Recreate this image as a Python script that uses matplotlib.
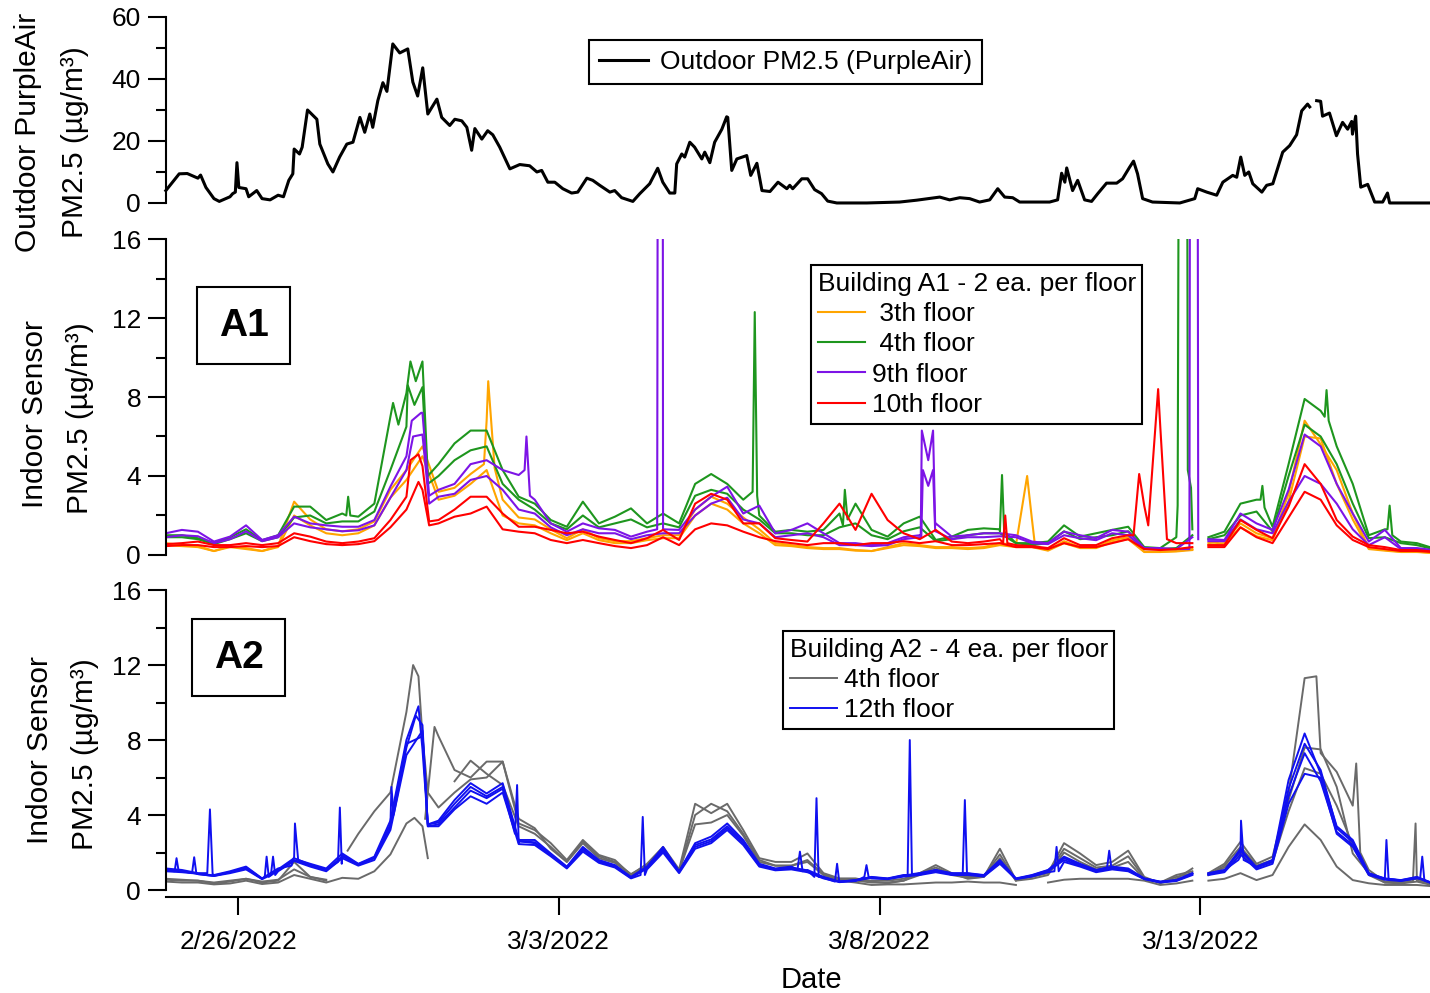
import numpy as np
import matplotlib
matplotlib.use("Agg")
import matplotlib.pyplot as plt
from matplotlib.ticker import MultipleLocator, FixedLocator, FuncFormatter
from matplotlib.lines import Line2D
from matplotlib.patches import Rectangle
import matplotlib.dates as mdates

plt.rcParams['font.family'] = ['Liberation Sans', 'DejaVu Sans']

nan = float("nan")
START = np.datetime64("2022-02-24T21:00")
# indoor sensors: 6-hourly readings, hours after START
grid_hours = list(range(0, 480, 6))

# outdoor PurpleAir, (hours after START, ug/m3)
outdoor = [(0, 4), (5, 9.4), (8, 9.5), (12, 8), (13, 9), (15, 5), (18, 1.4), (20, 0.5), (24, 2), (25, 3),
           (26, 3.5), (26.6, 13), (27.3, 5), (30, 4.6), (31, 2), (34, 4), (36, 1.4), (39, 1), (42, 2.5), (44, 2),
           (46, 7.3), (47.5, 9.4), (48, 17.4), (50, 15.8), (51, 18), (53, 30), (56.5, 27), (57.6, 19), (60.6, 12.6),
           (62.5, 10), (65, 14.8), (67.7, 19), (70, 19.6), (72.6, 27.6), (74.4, 22.8), (76.3, 28.7), (77.4, 24.4),
           (79.3, 33), (81.2, 38.8), (82.7, 36), (84.9, 51.3), (87.5, 48.4), (90.5, 49.7), (92.4, 39), (94.2, 34.5),
           (96.1, 43.6), (98, 28.7), (101.4, 33.5), (103.2, 27.6), (106.2, 25), (108.1, 27), (110.7, 26.5),
           (112.6, 24.4), (114.4, 17), (115.6, 24), (118.2, 20.6), (120.4, 23.3), (122.3, 22), (124.9, 18),
           (128.7, 11), (132.4, 12.4), (136.1, 12), (138.8, 10), (140.6, 10.5), (142.9, 6.7), (145.5, 6.7),
           (148.5, 4.6), (151.8, 3.2), (154.1, 3.5), (157.5, 8), (159.7, 7.3), (162.3, 5.7), (166.1, 3.5),
           (167.9, 4), (170.5, 1.7), (174.7, 0.5), (177.3, 3), (181, 6.2), (184, 11.2), (185.9, 6.7), (188.5, 3.2),
           (190.4, 3.2), (191.1, 12.6), (193, 15.8), (194.1, 14.8), (196, 19.6), (197.8, 18), (200.5, 14.2),
           (201.6, 16.4), (203.5, 13), (205.3, 19.6), (208, 23.8), (209.8, 27.8), (210.2, 27.6), (211.7, 10.5),
           (213.6, 14.2), (217.3, 15.3), (218.8, 8.9), (221.1, 12.8), (223, 4), (226, 3.7), (229, 6.7),
           (232.3, 4.6), (233.4, 5.7), (234.5, 4.6), (237.9, 7.8), (240.1, 7.8), (242.7, 4.3), (245.3, 3),
           (247.6, 0.6), (251, 0), (262.2, 0), (274.5, 0.3), (280.9, 0.9), (289.5, 1.9), (293.2, 1), (297, 1.7),
           (300.7, 1.4), (304.4, 0.3), (308.2, 1), (311.2, 4.6), (313.8, 1.9), (316.8, 1.7), (319.4, 0.3),
           (330.6, 0.3), (333.6, 1), (335.1, 9.6), (336.3, 6.7), (337, 11.3), (339.2, 4), (341.1, 7.3), (343.7, 1),
           (346.3, 0.5), (348.6, 3), (351.9, 6.4), (355.7, 6.4), (357.9, 7.8), (360.5, 11.5), (362, 13.5),
           (363.5, 9.4), (365.4, 1.4), (369.1, 0.3), (379.3, 0), (384.9, 1.4), (386, 4.6), (389.4, 3.5),
           (393.1, 2.5), (395.4, 6.7), (399.1, 8.9), (400.6, 8.3), (402.1, 14.8), (403.6, 8.9), (405.1, 10),
           (406.6, 6.2), (410, 3.5), (411.8, 5.7), (414.1, 6.2), (417.8, 16.4), (420.4, 18.5), (423, 22),
           (424.9, 29.7), (427.1, 31.9), (427.9, 31), (429.2, nan), (430.5, 33), (432, 32.8), (432.7, 28),
           (435.3, 29), (437.9, 21.7), (440.2, 26), (442.1, 23.8), (443.6, 26.3), (443.9, 22.2), (445.1, 28),
           (445.8, 15.8), (447, 5.1), (449.6, 6), (452.2, 0.3), (455.2, 0.3), (457, 3.2), (457.8, 0), (472.8, 0)]

# ---- Building A1 ----
a1_3th_1 = [0.6, 0.5, 0.45, 0.2, 0.45, 0.35, 0.2, 0.45, 2.7, 1.8,
            1.3, 1.2, 1.3, 1.7, 3.3, 4.3, 5.5, 3.2, 3.4, 4.1,
            6.8, 2.8, 1.9, 1.8, 1.3, 0.85, 1.3, 0.85, 0.7, 0.7,
            0.85, 1.0, 1.0, 2.3, 2.95, 2.6, 1.9, 1.3, 0.6, 0.5,
            0.4, 0.35, 0.35, 0.25, 0.2, 0.4, 0.6, 0.5, 0.4, 0.4,
            0.35, 0.4, 0.6, 0.5, 1.8, 0.25, 0.7, 0.4, 0.4, 0.75,
            0.9, 0.17, 0.17, 0.2, 0.3, 0.6, 0.7, 1.6, 1.1, 0.85,
            3.1, 6.8, 5.6, 4.3, 2.1, 0.35, 0.25, 0.17, 0.17, 0.1]
a1_3th_1_extra = [(119, 4.6), (120.6, 8.8), (123, 4.4), (322.2, 4.0), (325.2, 0.4), (388.5, nan)]
a1_3th_2 = [0.5, 0.45, 0.4, 0.2, 0.4, 0.3, 0.2, 0.4, 2.0, 1.5,
            1.1, 1.0, 1.1, 1.5, 2.9, 3.8, 5.0, 2.8, 3.0, 3.6,
            4.3, 2.0, 1.6, 1.5, 1.1, 0.75, 1.1, 0.75, 0.6, 0.6,
            0.75, 0.85, 0.85, 2.0, 2.6, 2.3, 1.6, 1.1, 0.5, 0.45,
            0.35, 0.3, 0.3, 0.22, 0.2, 0.35, 0.5, 0.45, 0.35, 0.35,
            0.3, 0.35, 0.5, 0.4, 0.4, 0.22, 0.6, 0.35, 0.35, 0.65,
            0.8, 0.15, 0.15, 0.18, 0.25, 0.5, 0.6, 1.4, 0.95, 0.75,
            2.7, 6.0, 5.9, 3.6, 1.8, 0.3, 0.22, 0.15, 0.15, 0.1]
a1_3th_2_extra = [(388.5, nan)]
a1_4th_1 = [1.0, 1.0, 0.85, 0.6, 0.9, 1.3, 0.75, 1.0, 2.45, 2.45,
            1.77, 2.1, 1.94, 2.6, 7.0, 8.2, 9.8, 4.6, 5.65, 6.3,
            6.3, 4.3, 2.95, 2.6, 1.77, 1.43, 2.7, 1.6, 1.94, 2.36,
            1.6, 2.1, 1.6, 3.6, 4.1, 3.6, 2.8, 2.0, 1.18, 1.27,
            1.18, 1.27, 2.1, 2.6, 1.27, 0.93, 1.6, 1.94, 0.76, 0.93,
            1.27, 1.35, 1.3, 0.6, 0.6, 0.68, 1.5, 0.93, 1.1, 1.27,
            1.43, 0.4, 0.35, 0.9, 1.3, 0.9, 1.18, 2.6, 2.8, 1.43,
            4.6, 7.9, 7.3, 5.5, 3.6, 1.0, 1.3, 0.68, 0.6, 0.35]
a1_4th_1_extra = [(67.5, 2.0), (68.2, 2.95), (69.0, 2.0), (85.0, 7.7), (87.0, 6.6), (91.5, 9.8), (93.5, 8.8),
                  (98.0, 4.0), (219.5, 3.2), (220.3, 12.3), (221.2, 3.0), (253.3, 1.5), (254.0, 3.3),
                  (255.0, 1.8), (312.0, 1.2), (312.8, 4.05), (313.6, 1.2), (378.5, 2.5), (379.3, 40),
                  (381.8, 40), (382.3, 4.3), (383.5, 3.4), (388.5, nan), (409.5, 2.8), (410.2, 3.5),
                  (411.0, 2.4), (433.5, 7.0), (434.2, 8.35), (435.0, 6.8), (457.0, 1.3), (457.8, 2.5),
                  (458.8, 1.0)]
a1_4th_2 = [0.9, 0.9, 0.8, 0.55, 0.8, 1.1, 0.7, 0.9, 1.9, 2.0,
            1.6, 1.7, 1.7, 2.2, 4.3, 6.5, 8.5, 4.0, 4.8, 5.3,
            5.5, 3.6, 2.8, 2.3, 1.6, 1.3, 2.0, 1.4, 1.6, 1.8,
            1.4, 1.6, 1.4, 3.0, 3.3, 3.1, 2.3, 1.8, 1.1, 1.1,
            1.0, 1.0, 1.4, 1.6, 1.0, 0.8, 1.2, 1.4, 0.7, 0.8,
            1.0, 1.1, 1.1, 0.6, 0.5, 0.6, 1.2, 0.8, 0.9, 1.0,
            1.2, 0.35, 0.3, 0.35, 1.0, 0.8, 1.0, 2.0, 2.2, 1.2,
            4.0, 6.6, 6.0, 4.6, 2.6, 0.85, 0.9, 0.6, 0.5, 0.3]
a1_4th_2_extra = [(90.5, 8.6), (93.0, 7.6), (98.0, 3.6), (388.5, nan)]
a1_9th_1 = [1.1, 1.27, 1.18, 0.68, 0.93, 1.5, 0.76, 1.0, 1.94, 1.6,
            1.5, 1.43, 1.43, 1.77, 3.46, 5.0, 7.2, 3.3, 3.6, 4.6,
            4.8, 4.3, 4.05, 2.8, 1.6, 1.18, 1.6, 1.35, 1.27, 0.93,
            1.18, 1.3, 1.27, 2.3, 2.95, 3.46, 2.1, 2.5, 1.1, 1.27,
            1.6, 1.1, 0.6, 0.6, 0.5, 0.6, 0.9, 1.0, 1.6, 0.93,
            1.0, 1.1, 1.1, 1.0, 0.68, 0.6, 1.18, 1.0, 0.85, 1.27,
            1.18, 0.35, 0.35, 0.3, 0.9, 0.8, 0.76, 2.1, 1.6, 1.27,
            3.3, 6.1, 5.5, 3.6, 2.1, 0.68, 1.27, 0.35, 0.35, 0.25]
a1_9th_1_extra = [(92.0, 6.8), (95.5, 7.2), (98.5, 3.0), (134.2, 4.3), (134.9, 6.0), (136.2, 3.0),
                  (183.8, 1.3), (184.2, 40), (185.8, 40), (282.4, 1.0), (282.8, 6.3), (285.2, 4.8),
                  (287.0, 6.3), (287.8, 1.5), (388.5, nan)]
a1_9th_2 = [0.9, 1.0, 0.95, 0.6, 0.8, 1.2, 0.7, 0.9, 1.6, 1.4,
            1.3, 1.2, 1.25, 1.5, 2.9, 4.3, 6.1, 2.95, 3.1, 3.8,
            4.0, 3.3, 2.3, 2.1, 1.4, 1.0, 1.3, 1.1, 1.1, 0.8,
            1.0, 1.1, 1.1, 2.0, 2.6, 2.9, 1.8, 1.6, 0.9, 1.0,
            1.1, 0.9, 0.5, 0.5, 0.45, 0.5, 0.8, 0.9, 1.2, 0.8,
            0.9, 0.9, 0.95, 0.9, 0.6, 0.55, 1.0, 0.85, 0.75, 1.1,
            1.0, 0.3, 0.3, 0.3, 40, 0.7, 0.7, 1.8, 1.3, 1.1,
            2.7, 4.0, 3.6, 2.6, 1.3, 0.5, 0.9, 0.3, 0.3, 0.2]
a1_9th_2_extra = [(92.5, 6.0), (98.5, 2.6), (282.6, 0.9), (283.2, 4.3), (285.2, 3.5), (287.0, 4.3),
                  (287.8, 1.2), (382.9, 0.3), (383.3, 40), (385.8, 40), (386.2, 0.8), (388.5, nan)]
a1_10th_1 = [0.55, 0.6, 0.68, 0.5, 0.5, 0.6, 0.5, 0.6, 1.1, 0.93,
             0.68, 0.6, 0.68, 0.85, 1.77, 2.95, 4.5, 1.77, 2.3, 2.95,
             2.95, 2.1, 1.43, 1.43, 1.27, 1.1, 1.18, 0.93, 0.76, 0.6,
             0.85, 1.27, 0.76, 2.6, 3.1, 2.8, 1.6, 1.6, 0.85, 0.76,
             0.68, 1.6, 2.6, 1.27, 3.1, 1.77, 1.1, 0.8, 1.27, 0.68,
             0.6, 0.68, 0.8, 0.5, 0.45, 0.35, 0.85, 0.5, 0.5, 0.85,
             1.0, 2.5, 6.5, 0.6, 0.6, 0.5, 0.5, 1.77, 1.27, 0.85,
             2.45, 4.6, 3.6, 1.77, 0.93, 0.5, 0.4, 0.25, 0.25, 0.17]
a1_10th_1_extra = [(91.5, 4.8), (94.5, 5.1), (98.5, 1.7), (313.2, 0.6), (314.0, 2.0), (314.8, 0.6),
                   (362.0, 1.0), (364.1, 4.1), (367.5, 1.5), (371.2, 8.4), (374.5, 0.8), (388.5, nan)]
a1_10th_2 = [0.45, 0.5, 0.5, 0.4, 0.4, 0.45, 0.4, 0.45, 0.9, 0.7,
             0.55, 0.5, 0.55, 0.7, 1.4, 2.3, 3.3, 1.6, 1.94, 2.1,
             2.45, 1.3, 1.18, 1.1, 0.76, 0.6, 0.76, 0.6, 0.45, 0.35,
             0.5, 0.9, 0.5, 1.3, 1.6, 1.5, 1.18, 0.9, 0.7, 0.6,
             0.5, 0.6, 0.6, 0.5, 0.6, 0.6, 0.7, 0.6, 0.7, 0.5,
             0.5, 0.55, 0.6, 0.4, 0.4, 0.3, 0.6, 0.4, 0.4, 0.6,
             0.8, 0.3, 0.25, 0.3, 0.4, 0.4, 0.4, 1.4, 0.9, 0.6,
             1.9, 3.2, 2.8, 1.5, 0.76, 0.4, 0.3, 0.2, 0.2, 0.15]
a1_10th_2_extra = [(94.5, 3.7), (98.5, 1.5), (388.5, nan)]

# ---- Building A2 ----
a2_4th_1 = [0.55, 0.5, 0.5, 0.35, 0.45, 0.6, 0.4, 0.5, 1.5, 0.7,
            0.5, nan, 3.0, 4.2, 5.2, 9.5, 8.2, 4.4, 5.2, 5.9,
            6.0, 6.85, 3.55, 3.2, 2.5, 1.6, 2.67, 1.87, 1.6, 0.8,
            1.4, 2.3, 1.1, 4.6, 4.1, 4.6, 3.2, 1.7, 1.5, 1.5,
            1.95, 0.9, 0.62, 0.62, 0.45, 0.36, 0.5, 0.9, 1.33, 0.9,
            0.6, 0.7, 2.2, 0.53, 0.7, 0.9, 2.5, 1.95, 1.33, 1.5,
            2.1, 0.7, 0.36, 0.6, 1.15, 0.9, 1.4, 2.57, 1.4, 1.78,
            5.15, 11.3, 7.3, 6.3, 4.5, 1.07, 0.45, 0.45, 0.6, 0.3]
a2_4th_1_extra = [(68.0, 2.1), (92.5, 12.0), (94.5, 11.4), (98.0, 5.2), (388.5, nan), (430.4, 11.4),
                  (445.3, 6.75), (446.8, 2.0)]
a2_4th_2 = [nan, nan, nan, nan, nan, nan, nan, nan, nan, nan,
            nan, nan, nan, nan, nan, nan, nan, 8.2, 6.4, 6.0,
            6.85, 6.85, 3.8, 3.3, 2.2, 1.5, 2.6, 1.8, 1.5, 0.85,
            1.35, 2.2, 1.0, 4.0, 4.6, 4.2, 3.0, 1.6, 1.3, 1.3,
            1.6, 0.85, 0.55, 0.55, 0.5, 0.5, 0.6, 0.9, 1.2, 0.85,
            0.7, 0.75, 1.9, 0.5, nan, 0.9, 2.2, 1.7, 1.2, 1.3,
            1.8, 0.65, 0.4, 0.8, 1.0, 0.8, 1.3, 2.3, 1.3, 1.6,
            4.8, 7.6, 7.5, 5.5, 1.95, 0.9, 0.4, 0.4, 0.5, 0.3]
a2_4th_2_extra = [(97.0, 3.8), (100.5, 8.7), (388.5, nan), (466.5, 0.45), (467.5, 3.55)]
a2_4th_3 = [0.45, 0.4, 0.4, 0.3, 0.35, 0.5, 0.32, 0.4, 0.8, 0.6,
            0.4, 0.65, 0.6, 1.0, 1.9, 3.55, 3.4, nan, nan, nan,
            nan, nan, nan, nan, nan, nan, nan, nan, nan, nan,
            nan, nan, nan, nan, nan, nan, nan, nan, nan, nan,
            nan, 0.7, 0.5, 0.4, 0.27, 0.3, 0.3, 0.35, 0.4, 0.4,
            0.45, 0.4, 0.4, 0.27, nan, 0.4, 0.55, 0.6, 0.6, 0.6,
            0.6, 0.5, 0.27, 0.35, 0.5, 0.5, 0.6, 0.9, 0.53, 0.8,
            2.3, 3.5, 2.67, 1.25, 0.53, 0.36, 0.27, 0.27, 0.27, 0.2]
a2_4th_3_extra = [(93.0, 3.85), (98.0, 1.7), (388.5, nan)]
a2_4th_4 = [0.6, 0.55, 0.5, 0.4, 0.5, 0.6, 0.45, 0.55, 1.1, 0.7,
            0.55, nan, nan, nan, nan, nan, nan, nan, 5.8, 6.9,
            6.2, 5.6, 3.4, 3.0, 2.3, 1.5, 2.5, 1.7, 1.45, 0.8,
            1.3, 2.1, 1.0, 3.5, 3.6, 4.0, 2.9, 1.5, 1.3, 1.3,
            1.5, 0.8, 0.55, 0.5, 0.4, 0.4, 0.5, 0.8, 1.1, 0.8,
            0.65, 0.7, 1.7, 0.5, 0.6, 0.8, 2.0, 1.5, 1.1, 1.2,
            1.5, 0.6, 0.4, 0.7, 0.9, 0.8, 1.2, 2.0, 1.2, 1.5,
            4.2, 6.5, 6.2, 4.5, 2.4, 0.8, 0.4, 0.35, 0.45, 0.25]
a2_4th_4_extra = [(388.5, nan)]
a2_12th_1 = [1.15, 1.07, 0.9, 0.8, 1.0, 1.25, 0.62, 1.15, 1.78, 1.4,
             1.15, 1.95, 1.4, 1.78, 3.7, 8.0, 7.5, 3.7, 4.8, 5.7,
             5.15, 5.7, 2.67, 2.67, 1.95, 1.25, 2.3, 1.6, 1.33, 0.7,
             1.25, 2.3, 1.0, 2.5, 2.85, 3.55, 2.67, 1.4, 1.15, 1.25,
             1.07, 0.7, 0.45, 0.53, 0.7, 0.62, 0.8, 0.9, 1.07, 0.9,
             0.9, 0.8, 1.6, 0.62, 0.8, 1.07, 1.78, 1.4, 1.07, 1.25,
             1.15, 0.62, 0.45, 0.53, 0.9, 0.9, 1.07, 1.8, 1.25, 1.6,
             5.87, 8.35, 6.2, 3.4, 2.67, 0.9, 0.62, 0.53, 0.7, 0.36]
a2_12th_1_extra = [(15.5, 0.9), (16.5, 4.3), (17.5, 0.85), (47.0, 1.3), (48.3, 3.55), (49.5, 1.6),
                   (94.5, 9.8), (98.0, 3.5), (236.3, 1.1), (237.2, 2.05), (238.2, 1.0), (277.5, 0.8),
                   (278.3, 8.0), (279.1, 0.85), (388.5, nan), (401.2, 1.6), (402.2, 3.7), (403.2, 1.6)]
a2_12th_2 = [1.05, 1.0, 0.85, 0.75, 0.95, 1.15, 0.6, 1.05, 1.6, 1.3,
             1.05, 1.8, 1.35, 1.7, 3.4, 7.6, 8.8, 3.5, 4.4, 5.3,
             4.9, 5.4, 2.5, 2.5, 1.85, 1.2, 2.15, 1.5, 1.25, 0.65,
             1.15, 2.1, 0.95, 2.3, 2.6, 3.3, 2.5, 1.3, 1.1, 1.15,
             1.0, 0.65, 0.45, 0.5, 0.65, 0.6, 0.75, 0.85, 1.0, 0.85,
             0.85, 0.75, 1.45, 0.6, 0.75, 1.0, 1.6, 1.3, 1.0, 1.15,
             1.05, 0.6, 0.42, 0.5, 0.85, 0.85, 1.0, 2.1, 1.2, 1.5,
             5.0, 7.3, 5.8, 3.1, 2.4, 0.85, 0.6, 0.5, 0.65, 0.35]
a2_12th_2_extra = [(3.3, 1.0), (4.0, 1.7), (4.8, 1.0), (37.0, 0.7), (37.7, 1.78), (38.5, 0.7), (83.6, 3.2),
                   (84.4, 5.5), (85.2, 4.0), (93.5, 9.3), (98.0, 3.4), (130.6, 3.0), (131.4, 5.6),
                   (132.2, 2.6), (250.3, 0.45), (251.1, 1.4), (251.9, 0.45), (298.1, 0.85), (298.9, 4.8),
                   (299.7, 0.85), (388.5, nan), (455.8, 0.6), (456.6, 2.67), (457.4, 0.6)]
a2_12th_3 = [1.0, 0.95, 0.85, 0.75, 0.9, 1.1, 0.58, 1.0, 1.55, 1.25,
             1.0, 1.7, 1.3, 1.6, 3.2, 7.2, 8.5, 3.4, 4.3, 5.0,
             4.6, 5.2, 2.45, 2.4, 1.8, 1.15, 2.05, 1.45, 1.2, 0.62,
             1.1, 2.0, 0.9, 2.2, 2.5, 3.2, 2.4, 1.25, 1.05, 1.1,
             0.95, 0.62, 0.42, 0.48, 0.62, 0.58, 0.72, 0.8, 0.95, 0.8,
             0.8, 0.72, 1.4, 0.58, 0.72, 0.95, 1.5, 1.25, 0.95, 1.1,
             1.0, 0.58, 0.4, 0.48, 0.8, 0.8, 0.95, 1.9, 1.1, 1.4,
             4.6, 6.2, 6.0, 3.0, 2.3, 0.8, 0.55, 0.48, 0.62, 0.33]
a2_12th_3_extra = [(9.8, 0.9), (10.6, 1.75), (11.4, 0.9), (39.3, 0.8), (40.1, 1.78), (40.9, 0.8),
                   (98.0, 3.4), (177.6, 0.8), (178.4, 3.9), (179.2, 0.8), (261.3, 0.7), (262.1, 1.33),
                   (262.9, 0.7), (332.4, 1.0), (333.2, 2.3), (334.0, 1.0), (388.5, nan), (469.2, 0.6),
                   (470.0, 1.78), (470.8, 0.5)]
a2_12th_4 = [1.1, 1.0, 0.88, 0.78, 0.95, 1.2, 0.6, 1.1, 1.7, 1.35,
             1.1, 1.85, 1.38, 1.72, 3.5, 7.8, 8.2, 3.6, 4.6, 5.5,
             5.0, 5.5, 2.6, 2.55, 1.9, 1.22, 2.2, 1.55, 1.28, 0.68,
             1.2, 2.2, 0.98, 2.4, 2.7, 3.4, 2.6, 1.35, 1.12, 1.2,
             1.05, 0.68, 0.44, 0.52, 0.68, 0.6, 0.78, 0.88, 1.05, 0.88,
             0.88, 0.78, 1.5, 0.6, 0.78, 1.05, 1.7, 1.35, 1.05, 1.2,
             1.1, 0.6, 0.44, 0.52, 0.88, 0.88, 1.05, 2.2, 1.2, 1.55,
             5.4, 7.8, 6.4, 3.3, 2.55, 0.88, 0.6, 0.52, 0.68, 0.35]
a2_12th_4_extra = [(64.4, 1.5), (65.1, 4.4), (65.8, 1.4), (98.0, 3.5), (242.6, 0.7), (243.4, 4.9),
                   (244.2, 0.7), (352.1, 1.2), (352.9, 2.1), (353.7, 1.2), (388.5, nan)]

tick_days = ["2022-02-26", "2022-03-03", "2022-03-08", "2022-03-13"]

C_ORANGE = "#FFA500"
C_GREEN = "#1E961E"
C_PURPLE = "#7D14E6"
C_RED = "#FF0000"
C_GRAY = "#6A6A6A"
C_BLUE = "#1010F0"


def to_dates(hours):
    return START + (np.array(hours, dtype=float) * 3600).astype("timedelta64[s]")


def merge(base, extra):
    pts = sorted(list(zip(grid_hours, base)) + list(extra), key=lambda p: p[0])
    return to_dates([p[0] for p in pts]), [p[1] for p in pts]


def style_axis(ax, ymax, major, minor):
    ax.set_ylim(0, ymax)
    ax.set_xlim(xlim)
    ax.yaxis.set_major_locator(MultipleLocator(major))
    ax.yaxis.set_minor_locator(MultipleLocator(minor))
    ax.spines['top'].set_visible(False)
    ax.spines['right'].set_visible(False)
    ax.spines['left'].set_linewidth(1.5)
    ax.tick_params(axis='y', which='major', direction='out', length=13, width=1.5, labelsize=19, pad=5)
    ax.tick_params(axis='y', which='minor', direction='out', length=7, width=1.5)


xlim = to_dates([0.07, 472.9])

fig = plt.figure(figsize=(14.3, 9.93), dpi=100)
ax_out = fig.add_axes([0.1161, 0.7956, 0.8839, 0.1873])
ax_a1 = fig.add_axes([0.1161, 0.4411, 0.8839, 0.3182])
ax_a2 = fig.add_axes([0.1161, 0.1037, 0.8839, 0.3021])

# outdoor
ax_out.plot(to_dates([p[0] for p in outdoor]), [p[1] for p in outdoor], color='black', lw=2.2,
            clip_on=False)
style_axis(ax_out, 60, 20, 10)

# A1
a1_series = [(a1_3th_1, a1_3th_1_extra, C_ORANGE), (a1_3th_2, a1_3th_2_extra, C_ORANGE),
             (a1_4th_1, a1_4th_1_extra, C_GREEN), (a1_4th_2, a1_4th_2_extra, C_GREEN),
             (a1_9th_1, a1_9th_1_extra, C_PURPLE), (a1_9th_2, a1_9th_2_extra, C_PURPLE),
             (a1_10th_1, a1_10th_1_extra, C_RED), (a1_10th_2, a1_10th_2_extra, C_RED)]
for base, extra, col in a1_series:
    t, v = merge(base, extra)
    ax_a1.plot(t, v, color=col, lw=1.5)
style_axis(ax_a1, 16, 4, 2)

# A2
a2_series = [(a2_4th_1, a2_4th_1_extra, C_GRAY), (a2_4th_2, a2_4th_2_extra, C_GRAY),
             (a2_4th_3, a2_4th_3_extra, C_GRAY), (a2_4th_4, a2_4th_4_extra, C_GRAY),
             (a2_12th_1, a2_12th_1_extra, C_BLUE), (a2_12th_2, a2_12th_2_extra, C_BLUE),
             (a2_12th_3, a2_12th_3_extra, C_BLUE), (a2_12th_4, a2_12th_4_extra, C_BLUE)]
for base, extra, col in a2_series:
    t, v = merge(base, extra)
    ax_a2.plot(t, v, color=col, lw=1.4)
style_axis(ax_a2, 16, 4, 2)

for ax in (ax_out, ax_a1):
    ax.spines['bottom'].set_visible(False)
    ax.tick_params(axis='x', which='both', bottom=False, labelbottom=False)

ax_a2.spines['bottom'].set_position(('outward', 5))
ax_a2.spines['bottom'].set_linewidth(1.5)
tick_pos = mdates.date2num(np.array(tick_days, dtype="datetime64[D]"))
ax_a2.xaxis.set_major_locator(FixedLocator(tick_pos))
ax_a2.xaxis.set_minor_locator(FixedLocator([]))


def fmt_date(x, pos):
    d = mdates.num2date(x)
    return f"{d.month}/{d.day}/{d.year}"


ax_a2.xaxis.set_major_formatter(FuncFormatter(fmt_date))
ax_a2.tick_params(axis='x', which='major', direction='out', length=13, width=1.5, labelsize=19, pad=11)

# legends
leg_kw = dict(loc='upper left', bbox_transform=fig.transFigure, frameon=True, fancybox=False,
              edgecolor='black', framealpha=1, fontsize=19, borderaxespad=0)
leg = ax_out.legend([Line2D([], [], color='black', lw=2.2)], ["Outdoor PM2.5 (PurpleAir)"],
                    bbox_to_anchor=(589 / 1430, 1 - 40 / 993), handlelength=1.85, handletextpad=0.45,
                    borderpad=0.38, **leg_kw)
leg.get_frame().set_linewidth(1.5)

leg = ax_a1.legend([Line2D([], [], color=c, lw=1.5) for c in (C_ORANGE, C_GREEN, C_PURPLE, C_RED)],
                   [" 3th floor", " 4th floor", "9th floor", "10th floor"],
                   title="Building A1 - 2 ea. per floor", title_fontsize=19, alignment='left',
                   bbox_to_anchor=(811 / 1430, 1 - 265 / 993), handlelength=1.8, handletextpad=0.25,
                   labelspacing=0.24, borderpad=0.25, **leg_kw)
leg.get_frame().set_linewidth(1.5)

leg = ax_a2.legend([Line2D([], [], color=c, lw=1.4) for c in (C_GRAY, C_BLUE)],
                   ["4th floor", "12th floor"],
                   title="Building A2 - 4 ea. per floor", title_fontsize=19, alignment='left',
                   bbox_to_anchor=(783 / 1430, 1 - 631 / 993), handlelength=1.8, handletextpad=0.25,
                   labelspacing=0.24, borderpad=0.25, **leg_kw)
leg.get_frame().set_linewidth(1.5)

# building tags
for label, (x0, y0, x1, y1) in [("A1", (197, 287, 290, 364)), ("A2", (192, 619, 285, 696))]:
    fig.add_artist(Rectangle((x0 / 1430, 1 - y1 / 993), (x1 - x0) / 1430, (y1 - y0) / 993,
                             transform=fig.transFigure, fill=False, lw=1.5, ec='black'))
    fig.text((x0 + x1) / 2 / 1430, 1 - (y0 + y1) / 2 / 993, label, fontsize=28, fontweight='bold',
             ha='center', va='center')

# axis labels, two lines each: (text, x centre px, y centre px)
ylabel_lines = [("Outdoor PurpleAir", 28, 132), ("PM2.5 (µg/m³)", 75, 142),
                ("Indoor Sensor", 35, 414), ("PM2.5 (µg/m³)", 80, 418),
                ("Indoor Sensor", 40, 750), ("PM2.5 (µg/m³)", 85, 754)]
for txt, px, py in ylabel_lines:
    fig.text(px / 1430, 1 - py / 993, txt, rotation=90, ha='center', va='center', fontsize=21.5)
fig.text(811 / 1430, 1 - 980 / 993, "Date", ha='center', va='center', fontsize=21)

fig.savefig("out.png", dpi=100)
